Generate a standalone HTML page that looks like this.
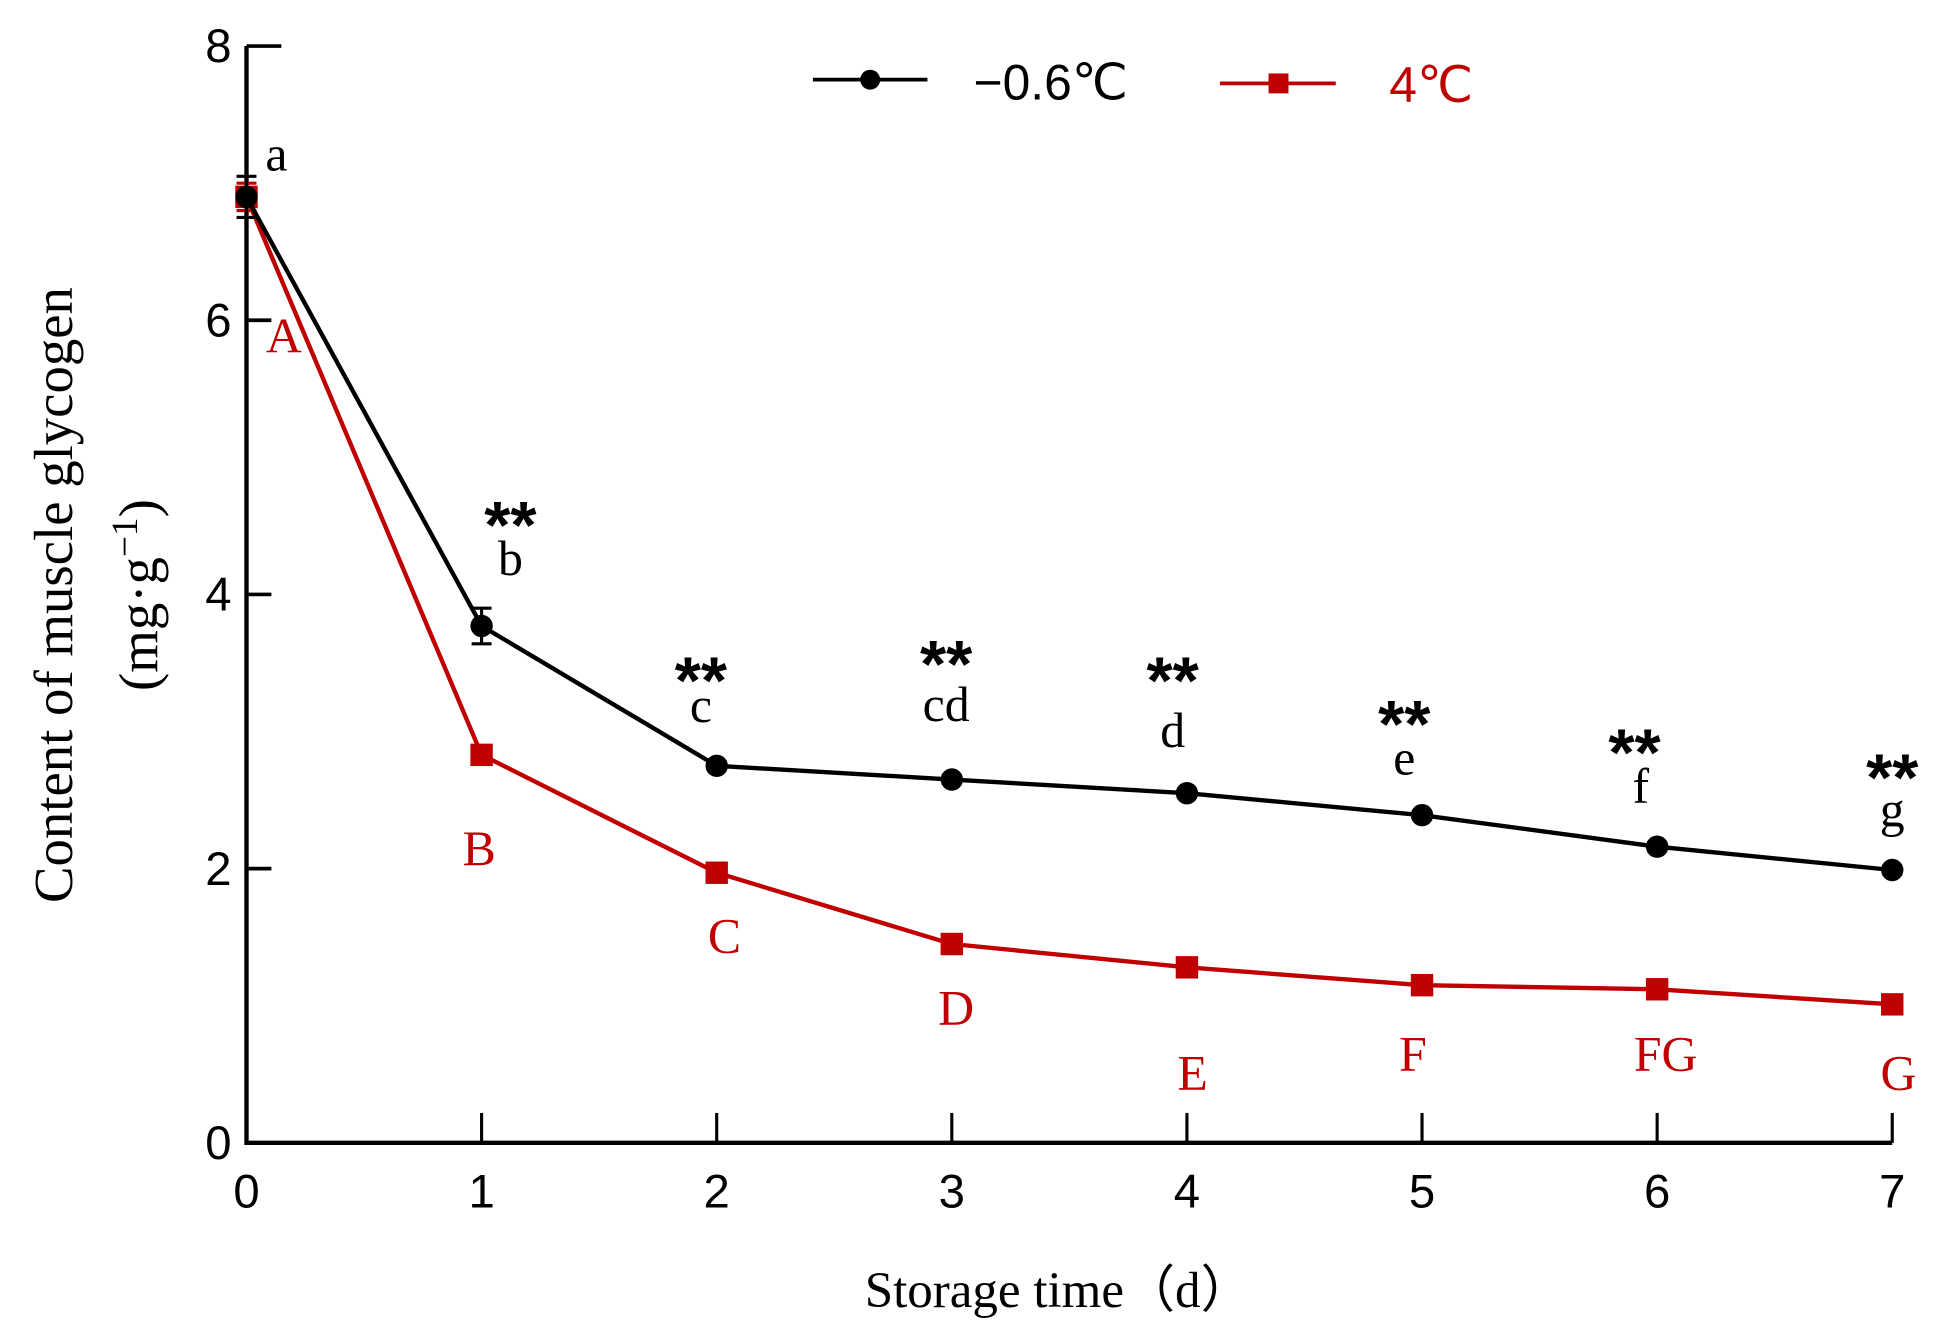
<!DOCTYPE html>
<html><head><meta charset="utf-8"><style>html,body{margin:0;padding:0;background:#fff}svg{display:block}</style></head>
<body>
<svg id="chart" width="1952" height="1342" viewBox="0 0 1568 1078" preserveAspectRatio="none" xmlns="http://www.w3.org/2000/svg">
<g id="axes"></g>
<g id="series"></g>
<g id="annot"></g>
<g>
  <line x1="653" y1="64" x2="745" y2="64" stroke="#000" stroke-width="3"/>
  <circle cx="699" cy="64" r="8" fill="#000"/>
  <text x="782" y="80" font-family="Liberation Sans, sans-serif" font-size="40" fill="#000">−0.6℃</text>
  <line x1="980" y1="67" x2="1073" y2="67" stroke="#c00000" stroke-width="3"/>
  <rect x="1019" y="59" width="16" height="16" fill="#c00000"/>
  <text x="1116" y="82" font-family="Liberation Sans, sans-serif" font-size="40" fill="#c00000">4℃</text>
</g>
<text x="850" y="1050" text-anchor="middle" font-family="Liberation Serif, serif" font-size="41">Storage time（d）</text>
<g transform="translate(58,478) rotate(-90)">
  <text x="0" y="0" text-anchor="middle" font-family="Liberation Serif, serif" font-size="44">Content of muscle glycogen</text>
  <text x="0" y="68" text-anchor="middle" font-family="Liberation Serif, serif" font-size="44">(mg·g<tspan baseline-shift="super" font-size="30">−1</tspan>)</text>
</g>
</svg>
<script>
const days = [0,1,2,3,4,5,6,7];
const coldValues = [6.9,3.77,2.75,2.65,2.55,2.39,2.16,1.99];
const warmValues = [6.9,2.83,1.97,1.45,1.28,1.15,1.12,1.01];
const coldErr = [0.15,0.13,0.03,0.03,0.03,0.03,0.03,0.03];
const warmErr = [0.1,0.04,0.03,0.03,0.03,0.03,0.03,0.03];
const coldLetters = ['a','b','c','cd','d','e','f','g'];
const warmLetters = ['A','B','C','D','E','F','FG','G'];
const stars = ['','**','**','**','**','**','**','**'];
const yTicks = [0,2,4,6,8];
const xTicks = [0,1,2,3,4,5,6,7];
const NS='http://www.w3.org/2000/svg';
const X0=198,X1=1520,Y0=918,Y1=37;
const xs=d=>X0+(X1-X0)*d/7;
const ys=v=>Y0-(Y0-Y1)*v/8;
function mk(p,tag,at){const e=document.createElementNS(NS,tag);for(const k in at)e.setAttribute(k,at[k]);p.appendChild(e);return e;}
const ax=document.getElementById('axes');
let l=mk(ax,'path',{d:`M${X0} ${Y1} V${Y0} H${X1}`,stroke:'#000','stroke-width':3.5,fill:'none'});


yTicks.forEach(v=>{
  const t=mk(ax,'line',{x1:X0,x2:X0+(v==8?28:20),y1:ys(v),y2:ys(v),stroke:'#000','stroke-width':3});
  
  
  const tx=mk(ax,'text',{x:X0-12,y:ys(v)+13,'text-anchor':'end','font-family':'Liberation Sans, sans-serif','font-size':38});
  tx.textContent=v;
  
  
});
xTicks.forEach(d=>{
  if(d>0){const t=mk(ax,'line',{x1:xs(d),x2:xs(d),y1:Y0,y2:Y0-24,stroke:'#000','stroke-width':2.5});
  
  }
  const tx=mk(ax,'text',{x:xs(d),y:Y0+52,'text-anchor':'middle','font-family':'Liberation Sans, sans-serif','font-size':38});
  tx.textContent=d;
  
  
});
const sr=document.getElementById('series');
function series(vals,err,col,sq,name){
  const p=mk(sr,'polyline',{points:days.map((d,i)=>xs(d)+','+ys(vals[i])).join(' '),stroke:col,'stroke-width':3.5,fill:'none'});
  
  
  days.forEach((d,i)=>{
    const x=xs(d),y=ys(vals[i]);
    const e=mk(sr,'path',{d:`M${x} ${ys(vals[i]+err[i])} V${ys(vals[i]-err[i])} M${x-8} ${ys(vals[i]+err[i])} h16 M${x-8} ${ys(vals[i]-err[i])} h16`,stroke:col,'stroke-width':2.5,fill:'none'});
    
    
    const m=sq?mk(sr,'rect',{x:x-9,y:y-9,width:18,height:18,fill:col}):mk(sr,'circle',{cx:x,cy:y,r:9,fill:col});
    
    
  });
}
series(warmValues,warmErr,'#c00000',true,'warm');
series(coldValues,coldErr,'#000',false,'cold');
const an=document.getElementById('annot');
const cPos=[[222,137],[410,462],[563,580],[760,579],[942,600],[1128,622],[1318,645],[1520,664]];
const sPos=[[0,0],[410,420],[563,545],[760,532],[942,545],[1128,580],[1313,603],[1520,623]];
const rPos=[[228,283],[385,695],[582,765],[768,823],[958,875],[1135,860],[1338,860],[1525,875]];
days.forEach((d,i)=>{
  let t=mk(an,'text',{x:cPos[i][0],y:cPos[i][1],'text-anchor':'middle','font-family':'Liberation Serif, serif','font-size':40});
  t.textContent=coldLetters[i];
  
  
  t=mk(an,'text',{x:rPos[i][0],y:rPos[i][1],'text-anchor':'middle','font-family':'Liberation Serif, serif','font-size':40,fill:'#c00000'});
  t.textContent=warmLetters[i];
  
  
  if(stars[i]){t=mk(an,'text',{x:sPos[i][0],y:sPos[i][1]+20,'text-anchor':'middle','font-family':'Liberation Sans, sans-serif','font-size':54,'font-weight':'bold'});
  t.textContent=stars[i];
  
  }
});
</script>
</body></html>
